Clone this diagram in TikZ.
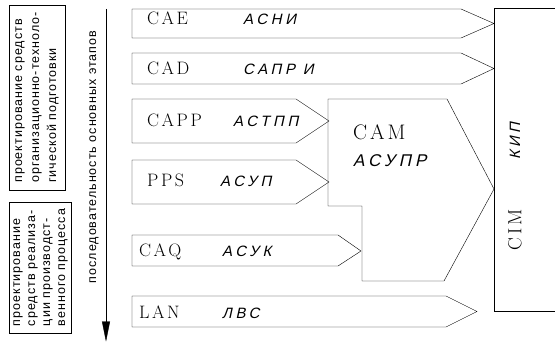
\documentclass[tikz,border=0pt]{standalone}
\usepackage{fontspec}
\newfontfamily\latfont[LetterSpace=14]{Latin Modern Roman}
\newfontfamily\gostfont[LetterSpace=24,FakeSlant=0.22]{Liberation Sans}
\newfontfamily\notefont[LetterSpace=8]{Liberation Sans}
\usetikzlibrary{arrows.meta}

\tikzset{
  code/.style={font=\latfont\fontsize{18}{18}\selectfont, anchor=base west, inner sep=0pt},
  rus/.style={font=\gostfont\fontsize{15}{15}\selectfont, anchor=base west, inner sep=0pt},
  note/.style={font=\notefont\fontsize{12.5}{17}\selectfont, rotate=90, align=left, inner sep=0pt},
}

\begin{document}
\begin{tikzpicture}[x=1pt,y=-1pt]
  \useasboundingbox (0,0) rectangle (555,342);
  % left boxes
  \draw (9,5) rectangle (65,190);
  \node[note] (org) at (37,97.5) {проектирование  средств\\организационно-техноло-\\гической  подготовки};
  \draw (9,202) rectangle (71,333);
  \node[note, font=\notefont\fontsize{12.5}{15}\selectfont] (proc) at (40.5,267.5) {проектирование\\средств  реализа-\\ции  производст-\\венного  процесса};
  % sequence of stages
  \draw[-{Triangle[length=20pt,width=8pt]}] (106,9) -- (106,341.5);
  \node[note] (seq) at (94,157) {последовательность  основных  этапов};

  % stages
  \draw (132,9) -- (461,9) -- (494,23.5) -- (461,38) -- (132,38) -- cycle;
  \node[code] (cae) at (147,25) {CAE};
  \node[rus] (asni) at (243,25) {АСНИ};

  \draw (132,53) -- (461,53) -- (494,68.5) -- (461,84) -- (132,84) -- cycle;
  \node[code] (cad) at (147,75) {CAD};
  \node[rus] (sapr) at (243,75) {САПР  И};

  \draw (132,99) -- (296,99) -- (329,121) -- (296,143) -- (132,143) -- cycle;
  \node[code] (capp) at (147,127) {CAPP};
  \node[rus] (astpp) at (233,127) {АСТПП};

  \draw (132,160) -- (296,160) -- (329,182) -- (296,204) -- (132,204) -- cycle;
  \node[code] (pps) at (147,187) {PPS};
  \node[rus] (asup) at (220,187) {АСУП};

  \draw (132,235) -- (338,235) -- (361,251) -- (338,266) -- (132,266) -- cycle;
  \node[code] (caq) at (139,257) {CAQ};
  \node[rus] (asuk) at (222,257) {АСУК};

  \draw (132,296) -- (446,296) -- (477,311.5) -- (446,327) -- (132,327) -- cycle;
  \node[code] (lan) at (139,318) {LAN};
  \node[rus] (lvs) at (222,318) {ЛВС};

  % CAM
  \draw (328,99) -- (447,99) -- (494,189) -- (444,281) -- (362,281) -- (362,206) -- (328,206) -- cycle;
  \node[code, font=\latfont\fontsize{21}{21}\selectfont] (cam) at (353,140) {CAM};
  \node[rus, font=\gostfont\fontsize{17}{17}\selectfont] (asupr) at (353,167) {АСУПР};

  % CIM
  \draw (560,8) -- (494,8) -- (494,311) -- (560,311);
  \node[font=\latfont\fontsize{19}{19}\selectfont, rotate=90, inner sep=0pt] (cim) at (515,230) {CIM};
  \node[font=\gostfont\fontsize{15}{15}\selectfont, rotate=90, inner sep=0pt] (kip) at (515,141) {КИП};
\end{tikzpicture}
\end{document}
